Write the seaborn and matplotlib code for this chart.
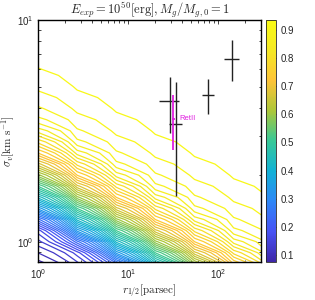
import numpy as np
import matplotlib
matplotlib.use('Agg')
import matplotlib.pyplot as plt
import seaborn as sns
from matplotlib.colors import LinearSegmentedColormap, Normalize
from matplotlib.cm import ScalarMappable

# ── data ─────────────────────────────────────────────────────
# coarse grid of the contoured quantity
r_nodes = [1.0, 2.72, 7.41, 20.1, 54.8, 149.0, 406.0]
log_sig_nodes = [-0.15, -0.10, -0.05, 0.00, 0.05, 0.10, 0.15, 0.20, 0.25, 0.30,
                 0.35, 0.40, 0.45, 0.50, 0.55, 0.60, 0.65, 0.70, 0.75, 0.80,
                 0.85, 0.90, 0.95, 1.00]
# one list per r node, running up in sigma
z_c0 = [0.070, 0.083, 0.105, 0.130, 0.158, 0.235, 0.335, 0.425, 0.510, 0.595,
        0.670, 0.735, 0.785, 0.832, 0.866, 0.883, 0.894, 0.904, 0.911, 0.917,
        0.921, 0.923, 0.925, 0.926]
z_c1 = [0.105, 0.130, 0.158, 0.235, 0.335, 0.425, 0.510, 0.595, 0.670, 0.735,
        0.785, 0.832, 0.866, 0.883, 0.894, 0.904, 0.911, 0.917, 0.921, 0.923,
        0.925, 0.926, 0.927, 0.927]
z_c2 = [0.158, 0.235, 0.335, 0.425, 0.510, 0.595, 0.670, 0.735, 0.785, 0.832,
        0.866, 0.883, 0.894, 0.904, 0.911, 0.917, 0.921, 0.923, 0.925, 0.926,
        0.927, 0.927, 0.928, 0.928]
z_c3 = [0.335, 0.425, 0.510, 0.595, 0.670, 0.735, 0.785, 0.832, 0.866, 0.883,
        0.894, 0.904, 0.911, 0.917, 0.921, 0.923, 0.925, 0.926, 0.927, 0.927,
        0.928, 0.928, 0.928, 0.929]
z_c4 = [0.510, 0.595, 0.670, 0.735, 0.785, 0.832, 0.866, 0.883, 0.894, 0.904,
        0.911, 0.917, 0.921, 0.923, 0.925, 0.926, 0.927, 0.927, 0.928, 0.928,
        0.928, 0.929, 0.929, 0.929]
z_c5 = [0.670, 0.735, 0.785, 0.832, 0.866, 0.883, 0.894, 0.904, 0.911, 0.917,
        0.921, 0.923, 0.925, 0.926, 0.927, 0.927, 0.928, 0.928, 0.928, 0.929,
        0.929, 0.929, 0.929, 0.930]
z_c6 = [0.785, 0.832, 0.866, 0.883, 0.894, 0.904, 0.911, 0.917, 0.921, 0.923,
        0.925, 0.926, 0.927, 0.927, 0.928, 0.928, 0.928, 0.929, 0.929, 0.929,
        0.929, 0.930, 0.930, 0.930]
levels = np.arange(0.09, 0.925, 0.015)

# observed dwarfs (black) and Ret II (magenta)
r_half  = [29.5, 34.4, 78.3, 141.5]
r_lo    = [22.2, 28.7, 67.1, 115.0]
r_hi    = [37.1, 40.1, 89.2, 169.0]
sig     = [4.33, 3.40, 4.61, 6.65]
sig_lo  = [3.10, 1.60, 3.78, 5.28]
sig_hi  = [5.51, 5.23, 5.39, 8.11]

ret_r, ret_r_lo, ret_r_hi = 31.8, 31.0, 33.0
ret_sig, ret_sig_lo, ret_sig_hi = 3.59, 2.59, 4.61

# ── style ────────────────────────────────────────────────────
sns.set_style('ticks')
plt.rcParams['font.family'] = ['Liberation Sans', 'DejaVu Sans']
plt.rcParams['mathtext.fontset'] = 'cm'
plt.rcParams['xtick.direction'] = 'in'
plt.rcParams['ytick.direction'] = 'in'

# approximate MATLAB parula
parula = LinearSegmentedColormap.from_list('parula', [
    (0.2422, 0.1504, 0.6603), (0.2810, 0.3228, 0.9579), (0.1786, 0.5289, 0.9682),
    (0.0689, 0.6948, 0.8394), (0.2161, 0.7843, 0.5923), (0.6720, 0.7793, 0.2227),
    (0.9970, 0.7659, 0.2199), (0.9598, 0.9106, 0.1423), (0.9769, 0.9839, 0.0805)])
norm = Normalize(0.075, 0.935)

fig = plt.figure(figsize=(3.15, 3.0), dpi=100)
ax = fig.add_axes([0.1206, 0.1267, 0.708, 0.8067])
cax = fig.add_axes([0.8444, 0.1267, 0.0317, 0.8067])

R, S = np.meshgrid(np.array(r_nodes), 10.0 ** np.array(log_sig_nodes))
Z = np.array([z_c0, z_c1, z_c2, z_c3, z_c4, z_c5, z_c6]).T
ax.contour(R, S, Z, levels=levels, cmap=parula, norm=norm, linewidths=0.9)

ax.errorbar(r_half, sig,
            xerr=[np.array(r_half) - np.array(r_lo), np.array(r_hi) - np.array(r_half)],
            yerr=[np.array(sig) - np.array(sig_lo), np.array(sig_hi) - np.array(sig)],
            fmt='none', ecolor='#222222', elinewidth=1.0, capsize=0)
ax.errorbar([ret_r], [ret_sig],
            xerr=[[ret_r - ret_r_lo], [ret_r_hi - ret_r]],
            yerr=[[ret_sig - ret_sig_lo], [ret_sig_hi - ret_sig]],
            fmt='none', ecolor='#E020E0', elinewidth=1.3, capsize=0)
ax.text(ret_r * 1.18, ret_sig, 'RetII', color='#E020E0', fontsize=5.5, va='center')

ax.set_xscale('log')
ax.set_yscale('log')
ax.set_xlim(1, 300)
ax.set_ylim(0.81, 10)
ax.tick_params(which='both', top=True, right=True, labelsize=7, width=0.6)
ax.tick_params(which='major', length=3)
ax.tick_params(which='minor', length=1.8)
for sp in ax.spines.values():
    sp.set_linewidth(1.0)
    sp.set_color('black')

ax.set_title(r'$E_{exp} = 10^{50}[\mathrm{erg}], M_g/M_{g,0} = 1$', fontsize=9, pad=3)
ax.set_xlabel(r'$r_{1/2}[\mathrm{parsec}]$', fontsize=8, labelpad=1)
ax.set_ylabel(r'$\sigma_v[\mathrm{km\ s^{-1}}]$', fontsize=8, labelpad=0)

cb = fig.colorbar(ScalarMappable(norm=norm, cmap=parula), cax=cax)
cb.set_ticks([0.1, 0.2, 0.3, 0.4, 0.5, 0.6, 0.7, 0.8, 0.9])
cb.ax.tick_params(labelsize=7, length=2, width=0.5, direction='in')
cb.outline.set_linewidth(0.6)

fig.savefig('out.png', dpi=100)
